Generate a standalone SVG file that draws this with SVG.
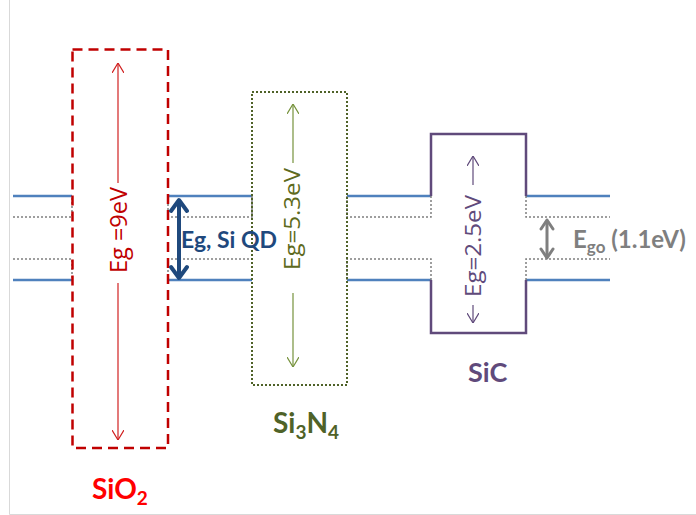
<svg xmlns="http://www.w3.org/2000/svg" width="696" height="515" viewBox="0 0 696 515">
<style>
.blue{stroke:#4f81bd;stroke-width:2.5;fill:none}
.gdot{stroke:#7f7f7f;stroke-width:1.5;stroke-dasharray:2 2;fill:none}
.lbl{font-family:Lato,"Liberation Sans",sans-serif;font-weight:bold}
.rot{font-family:"Open Sans","Liberation Sans",sans-serif}
</style>
<defs>
<marker id="aRed" markerUnits="userSpaceOnUse" viewBox="0 0 10 12" refX="10" refY="6" markerWidth="10" markerHeight="12" orient="auto"><path d="M0,0 L10,6 L0,12" fill="none" stroke="#d02020" stroke-width="1.2"/></marker>
<marker id="aOl" markerUnits="userSpaceOnUse" viewBox="0 0 10 12" refX="10" refY="6" markerWidth="10" markerHeight="12" orient="auto"><path d="M0,0 L10,6 L0,12" fill="none" stroke="#76923c" stroke-width="1.2"/></marker>
<marker id="aPu" markerUnits="userSpaceOnUse" viewBox="0 0 10 12" refX="10" refY="6" markerWidth="10" markerHeight="12" orient="auto"><path d="M0,0 L10,6 L0,12" fill="none" stroke="#604a7b" stroke-width="1.2"/></marker>
</defs>
<rect width="696" height="515" fill="#fff"/>
<path d="M9.5,0 V514.5 H696" fill="none" stroke="#d9d9d9" stroke-width="1"/>

<g id="bands">
<path class="blue" d="M13,196 H72 M13,280 H72 M168,196 H252 M168,280 H252 M347,196 H431 M347,280 H431 M526,196 H610 M526,280 H610"/>
<path class="gdot" d="M13,217 H72 V196 M13,259 H72 V280 M168,196 V217 H252 V196 M168,280 V259 H252 V280 M347,196 V217 H431 V196 M347,280 V259 H431 V280 M526,196 V217 H610 M526,280 V259 H610"/>
</g>

<g id="sio2">
<rect x="72.5" y="49.5" width="95.5" height="398.5" fill="none" stroke="#c00000" stroke-width="2.5" stroke-dasharray="10 6"/>
<path d="M118,183 V63" stroke="#d02020" stroke-width="1.2" marker-end="url(#aRed)"/>
<path d="M118,283 V440" stroke="#d02020" stroke-width="1.2" marker-end="url(#aRed)"/>
<text class="rot" transform="translate(127,230) rotate(-90)" text-anchor="middle" font-size="24" fill="#c00000" textLength="86" lengthAdjust="spacingAndGlyphs">Eg =9eV</text>
<text class="lbl" x="92" y="499" font-size="28" fill="#ff0000">SiO<tspan font-size="19" dy="6">2</tspan></text>
</g>

<g id="si3n4">
<rect x="252" y="92" width="95" height="293" fill="none" stroke="#4f6228" stroke-width="2" stroke-dasharray="2 2"/>
<path d="M293,163 V104" stroke="#76923c" stroke-width="1.2" marker-end="url(#aOl)"/>
<path d="M293,293 V367" stroke="#76923c" stroke-width="1.2" marker-end="url(#aOl)"/>
<text class="rot" transform="translate(300,219) rotate(-90)" text-anchor="middle" font-size="21" fill="#5e6a20" textLength="102" lengthAdjust="spacingAndGlyphs">Eg=5.3eV</text>
<text class="lbl" x="273" y="433" font-size="28" fill="#4f6228">Si<tspan font-size="19" dy="6">3</tspan><tspan dy="-6">N</tspan><tspan font-size="19" dy="6">4</tspan></text>
</g>

<g id="sic">
<path d="M431,196 V134 H526 V196 M431,280 V333 H526 V280" fill="none" stroke="#604a7b" stroke-width="2.5"/>
<path d="M473,185 V156" stroke="#604a7b" stroke-width="1.2" marker-end="url(#aPu)"/>
<path d="M473,305 V323" stroke="#604a7b" stroke-width="1.2" marker-end="url(#aPu)"/>
<text class="rot" transform="translate(481,246) rotate(-90)" text-anchor="middle" font-size="22" fill="#604a7b" textLength="102" lengthAdjust="spacingAndGlyphs">Eg=2.5eV</text>
<text class="lbl" x="468" y="382" font-size="27" fill="#604a7b">SiC</text>
</g>

<g id="siqd">
<path d="M179,201 V277" stroke="#1f497d" stroke-width="4" fill="none"/>
<path d="M171,211 L179,200 L187,211 M171,267 L179,278 L187,267" stroke="#1f497d" stroke-width="4" fill="none" stroke-linecap="round" stroke-linejoin="round"/>
<text class="lbl" x="181" y="248" font-size="22" fill="#1f497d" textLength="96" lengthAdjust="spacingAndGlyphs">Eg, Si QD</text>
</g>

<g id="ego">
<path d="M547,222 V256" stroke="#7f7f7f" stroke-width="3" fill="none"/>
<path d="M541,229 L547,220 L553,229 M541,249 L547,258 L553,249" stroke="#7f7f7f" stroke-width="3" fill="none" stroke-linecap="round" stroke-linejoin="round"/>
<text class="lbl" x="573" y="248" font-size="24" fill="#7f7f7f">E<tspan font-size="17" dy="5">go</tspan><tspan dy="-5"> (1.1eV)</tspan></text>
</g>
</svg>
